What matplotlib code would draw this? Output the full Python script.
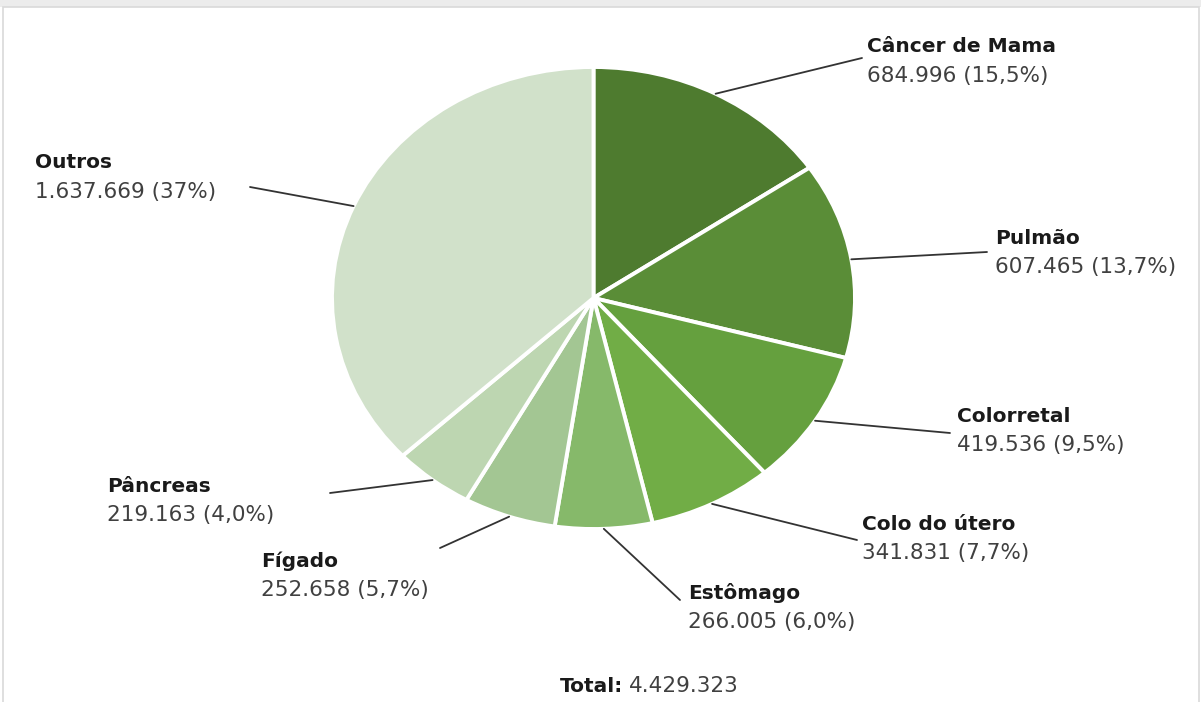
import numpy as np
import matplotlib
matplotlib.use("Agg")
import matplotlib.pyplot as plt
from matplotlib.patches import Rectangle

# casos estimados por localização
categorias = ["Câncer de Mama", "Pulmão", "Colorretal", "Colo do útero",
              "Estômago", "Fígado", "Pâncreas", "Outros"]
casos = [684996, 607465, 419536, 341831, 266005, 252658, 219163, 1637669]
percentuais = ["15,5%", "13,7%", "9,5%", "7,7%", "6,0%", "5,7%", "4,0%", "37%"]
total = 4429323

cores = ["#4e7b2f", "#5a8d37", "#65a03e", "#71ad46", "#86b96a",
         "#a3c693", "#bdd6b1", "#d1e1ca"]

W, H = 1201, 702

# posição dos rótulos (pixels: esquerda, centro da 1a linha) e fim da linha guia
pos_rotulos = [(867, 47), (995, 238), (957, 416), (862, 524),
               (688, 593), (261, 561), (107, 486), (35, 163)]
fim_linhas = [(862, 58), (987, 252), (950, 433), (857, 540),
              (680, 600), (440, 548), (330, 493), (250, 187)]

# centro e raios da pizza em pixels
cx, cy, rx, ry = 593.5, 298, 261.5, 231


def fmt(n):
    return f"{n:,}".replace(",", ".")


def fig_xy(x, y):
    return x / W, 1 - y / H


plt.rcParams["font.family"] = ["DejaVu Sans"]

fig = plt.figure(figsize=(W / 100, H / 100), dpi=100)
fig.patch.set_facecolor("white")

# moldura do gráfico
fig.patches.append(Rectangle((0, 1 - 7 / H), 1, 7 / H, transform=fig.transFigure,
                             facecolor="#ececec", edgecolor="none", zorder=-2))
fig.patches.append(Rectangle((3 / W, -0.01), 1196 / W, 1 - 7 / H + 0.01,
                             transform=fig.transFigure, facecolor="white",
                             edgecolor="#d9d9d9", lw=1.2, zorder=-1))

ax = fig.add_axes([0, 0, 1, 1])
ax.set_zorder(1)
ax.patch.set_alpha(0)
wedges, _ = ax.pie(casos, colors=cores, startangle=90, counterclock=False,
                   radius=1, wedgeprops=dict(edgecolor="white", linewidth=2.8))
ax.set_aspect("auto")
ax.set_xlim(-cx / rx, (W - cx) / rx)
ax.set_ylim(-(H - cy) / ry, cy / ry)
ax.axis("off")

for w, nome, n, p, (lx, ly), (ex, ey) in zip(wedges, categorias, casos,
                                              percentuais, pos_rotulos, fim_linhas):
    ang = np.deg2rad((w.theta1 + w.theta2) / 2)
    ax.annotate("", xy=(np.cos(ang), np.sin(ang)), xycoords="data",
                xytext=fig_xy(ex, ey), textcoords="figure fraction",
                arrowprops=dict(arrowstyle="-", color="#333333", lw=1.3,
                                shrinkA=0, shrinkB=0))
    fig.text(*fig_xy(lx, ly), nome, ha="left", va="center", fontsize=14.5,
             fontweight="bold", color="#1a1a1a")
    fig.text(*fig_xy(lx, ly + 29), f"{fmt(n)} ({p})", ha="left", va="center",
             fontsize=15.5, color="#404040")

fig.text(*fig_xy(623, 686), "Total:", ha="right", va="center", fontsize=14.5,
         fontweight="bold", color="#1a1a1a")
fig.text(*fig_xy(629, 686), fmt(total), ha="left", va="center", fontsize=15.5,
         color="#404040")

fig.savefig("out.png", dpi=100)
plt.close(fig)
